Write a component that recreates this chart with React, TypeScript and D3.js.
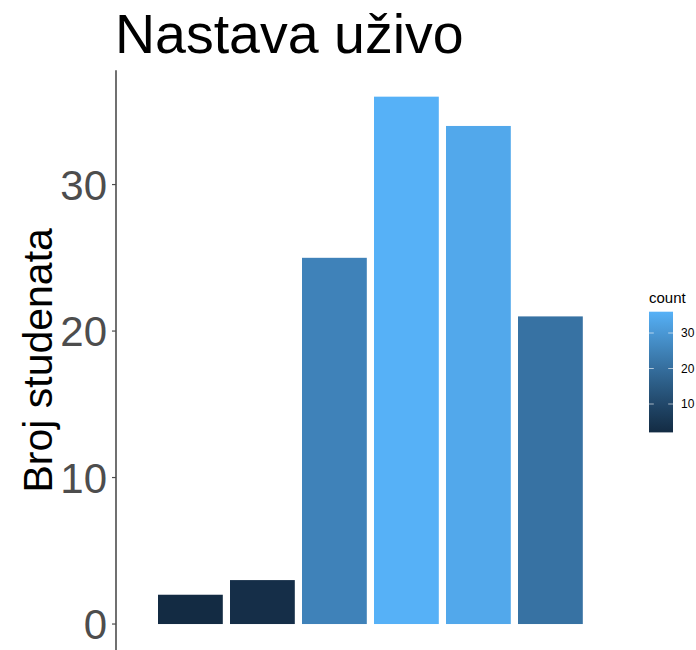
import React, { useRef, useEffect } from 'react';
import * as d3 from 'd3';

const categories = ['1', '2', '3', '4', '5', '6'];
const counts = [2, 3, 25, 36, 34, 21];
const yTicks = [0, 10, 20, 30];
const legendTicks = [10, 20, 30];

const W = 696;
const H = 650;

const App: React.FC = () => {
    const ref = useRef<SVGSVGElement | null>(null);

    useEffect(() => {
        const svg = d3.select(ref.current);
        svg.selectAll('*').remove();
        const font = '"Liberation Sans", Arial, sans-serif';

        const panelLeft = 116;
        const panelTop = 70.3;
        const panelBottom = 650.4;

        const maxV = d3.max(counts) as number;
        const y = d3.scaleLinear()
            .domain([-maxV * 0.05, maxV * 1.05])
            .range([panelBottom, panelTop]);

        const x = d3.scaleBand<string>()
            .domain(categories)
            .range([154.4, 586.4])
            .paddingInner(0.1)
            .paddingOuter(0.05);

        const minV = d3.min(counts) as number;
        const color = d3.scaleLinear<string>()
            .domain([minV, maxV])
            .range(['#132B43', '#56B1F7'])
            .interpolate(d3.interpolateLab);

        // bars
        svg.append('g')
            .selectAll('rect')
            .data(counts)
            .enter()
            .append('rect')
            .attr('x', (_d, i) => x(categories[i]) as number)
            .attr('width', x.bandwidth())
            .attr('y', (d) => y(d))
            .attr('height', (d) => y(0) - y(d))
            .attr('fill', (d) => color(d));

        // y axis
        const ax = svg.append('g');
        ax.append('line')
            .attr('x1', panelLeft).attr('x2', panelLeft)
            .attr('y1', panelTop).attr('y2', panelBottom)
            .attr('stroke', '#4D4D4D').attr('stroke-width', 1.6);
        ax.selectAll('line.tick')
            .data(yTicks)
            .enter()
            .append('line')
            .attr('class', 'tick')
            .attr('x1', panelLeft - 4).attr('x2', panelLeft)
            .attr('y1', (d) => y(d)).attr('y2', (d) => y(d))
            .attr('stroke', '#4D4D4D').attr('stroke-width', 1.2);
        ax.selectAll('text')
            .data(yTicks)
            .enter()
            .append('text')
            .attr('x', panelLeft - 9)
            .attr('y', (d) => y(d))
            .attr('dy', '0.36em')
            .attr('text-anchor', 'end')
            .style('font-family', font)
            .style('font-size', '42px')
            .attr('fill', '#4D4D4D')
            .text((d) => d);

        // y label
        svg.append('text')
            .attr('transform', `translate(52, ${(panelTop + panelBottom) / 2}) rotate(-90)`)
            .attr('text-anchor', 'middle')
            .style('font-family', font)
            .style('font-size', '41px')
            .attr('fill', '#000')
            .text('Broj studenata');

        // title
        svg.append('text')
            .attr('x', 115)
            .attr('y', 53)
            .style('font-family', font)
            .style('font-size', '55.5px')
            .attr('fill', '#000')
            .text('Nastava uživo');

        // legend colorbar
        const lx = 649;
        const lw = 24;
        const ly = d3.scaleLinear().domain([minV, maxV]).range([432.4, 311.7]);
        const defs = svg.append('defs');
        const grad = defs.append('linearGradient')
            .attr('id', 'cbar')
            .attr('x1', 0).attr('y1', 1).attr('x2', 0).attr('y2', 0);
        d3.range(0, 1.0001, 0.1).forEach((t) => {
            grad.append('stop')
                .attr('offset', t)
                .attr('stop-color', color(minV + t * (maxV - minV)));
        });
        const lg = svg.append('g');
        lg.append('rect')
            .attr('x', lx).attr('y', ly(maxV))
            .attr('width', lw).attr('height', ly(minV) - ly(maxV))
            .attr('fill', 'url(#cbar)');
        legendTicks.forEach((t) => {
            lg.append('line')
                .attr('x1', lx).attr('x2', lx + 4.8)
                .attr('y1', ly(t)).attr('y2', ly(t))
                .attr('stroke', 'rgba(255,255,255,0.6)').attr('stroke-width', 1);
            lg.append('line')
                .attr('x1', lx + lw - 4.8).attr('x2', lx + lw)
                .attr('y1', ly(t)).attr('y2', ly(t))
                .attr('stroke', 'rgba(255,255,255,0.6)').attr('stroke-width', 1);
        });
        lg.selectAll('text.lt')
            .data(legendTicks)
            .enter()
            .append('text')
            .attr('class', 'lt')
            .attr('x', lx + lw + 8)
            .attr('y', (d) => ly(d))
            .attr('dy', '0.36em')
            .style('font-family', font)
            .style('font-size', '12px')
            .attr('fill', '#000')
            .text((d) => d);
        lg.append('text')
            .attr('x', lx)
            .attr('y', 303)
            .style('font-family', font)
            .style('font-size', '15px')
            .attr('fill', '#000')
            .text('count');
    }, []);

    return (
        <svg ref={ref} width={W} height={H} style={{ position: 'absolute', left: 0, top: 0 }} />
    );
};

export default App;
